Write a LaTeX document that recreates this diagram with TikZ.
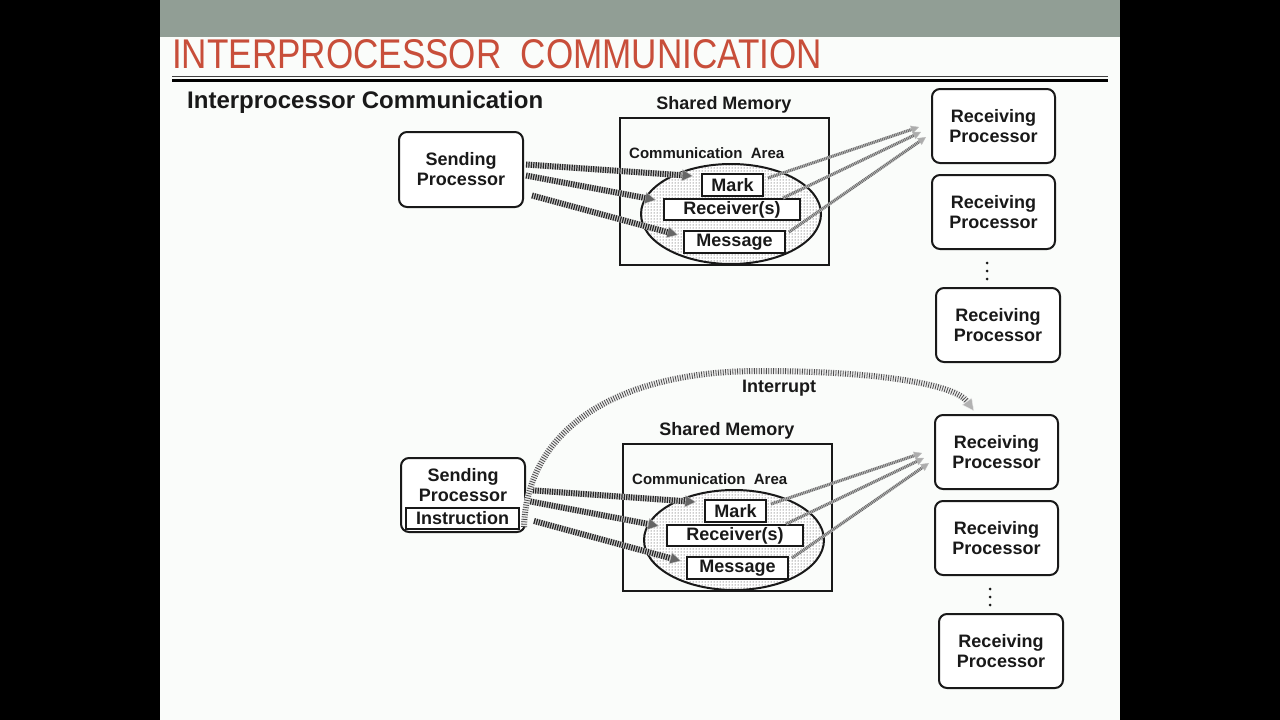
\documentclass[tikz,border=0pt]{standalone}
\usepackage{fontspec}
\setmainfont{Liberation Sans}
\usetikzlibrary{arrows.meta,patterns,shapes.geometric,calc}
\definecolor{band}{RGB}{145,158,149}
\definecolor{titlered}{RGB}{200,78,58}
\definecolor{slidebg}{RGB}{250,252,250}
\definecolor{ink}{RGB}{25,25,25}
\begin{document}
\begin{tikzpicture}[x=1pt,y=-1pt,
  proc/.style={draw=ink, line width=2pt, rounded corners=8pt, fill=white, align=center,
    font=\fontsize{18}{20}\selectfont\bfseries, text=ink, inner sep=0pt},
  lbl/.style={font=\fontsize{18}{20}\selectfont\bfseries, text=ink, inner sep=0pt},
  smalllbl/.style={font=\fontsize{15}{17}\selectfont\bfseries, text=ink, inner sep=0pt},
  memrect/.style={draw=ink, line width=2pt, minimum width=209pt, minimum height=147pt, inner sep=0pt},
  area/.style={ellipse, draw=ink, line width=2pt, minimum width=180pt, minimum height=100pt, inner sep=0pt,
    preaction={fill=white}, preaction={pattern=dots, pattern color=black!85}},
  field/.style={draw=ink, line width=2pt, fill=white, inner sep=0pt,
    font=\fontsize{18}{20}\selectfont\bfseries, text=ink},
  sendarr/.style={line width=6pt, draw=gray!40,
    -{Triangle[length=11pt,width=12pt,line width=0.4pt,fill=black!60]},
    postaction={draw=black!85, -, line width=6pt, dash pattern=on 1.2pt off 1.2pt, shorten >=11pt}},
  recvarr/.style={line width=3pt, draw=gray!50,
    -{Triangle[length=8pt,width=8pt,line width=0.4pt,fill=gray!65]},
    postaction={draw=black!60, -, line width=3pt, dash pattern=on 0.8pt off 1pt, shorten >=8pt}},
  intarr/.style={line width=6pt, draw=gray!15,
    -{Triangle[length=12pt,width=12pt,line width=0.4pt,fill=gray!60]},
    postaction={draw=black!70, -, line width=6pt, dash pattern=on 0.8pt off 1.6pt, shorten >=12pt}},
  dotmark/.style={circle, fill=ink, inner sep=0pt, minimum size=3pt}
]
\useasboundingbox (0,0) rectangle (1280,720);
% screen and slide
\fill[black] (0,0) rectangle (1280,720);
\fill[slidebg] (160,0) rectangle (1120,720);
\fill[band] (160,0) rectangle (1120,37);
\node[anchor=west, inner sep=0pt, text=titlered] (title) at (172,54)
  {\resizebox{650pt}{29pt}{INTERPROCESSOR\ \ COMMUNICATION}};
\draw[black!75, line width=1.5pt] (172,76.5) -- (1108,76.5);
\draw[black, line width=2.5pt] (172,80.5) -- (1108,80.5);
\node[anchor=west, inner sep=0pt, text=ink, font=\fontsize{24}{26}\selectfont\bfseries] (subtitle) at (187,102)
  {Interprocessor Communication};

% sending processors
\node[proc, minimum width=124pt, minimum height=75pt] (t-send) at (461,169.5) {Sending\\Processor};
\node[proc, minimum width=124pt, minimum height=74pt] (b-send) at (463,495) {};
\node[lbl, align=center] (b-sendtxt) at (463,485) {Sending\\Processor};
\node[field, line width=1.5pt, minimum width=113pt, minimum height=21pt] (b-instr) at (462.5,518.5) {Instruction};

\foreach \p/\dx/\dy in {t/0/0, b/3/326}{
\begin{scope}[shift={(\dx,\dy)}]
  \node[lbl] (\p-memlbl) at (724,105) {Shared Memory};
  \node[memrect] (\p-mem) at (724.5,191.5) {};
  \node[smalllbl, anchor=west] (\p-ca) at (629,153) {Communication\ \ Area};
  \node[area] (\p-area) at (731,214) {};
  \node[field, minimum width=61pt, minimum height=22pt] (\p-mark) at (732.5,185) {Mark};
  \node[field, minimum width=136pt, minimum height=21pt] (\p-rcv) at (732,209.5) {Receiver(s)};
  \node[field, minimum width=101pt, minimum height=22pt] (\p-msg) at (734.5,242) {Message};
  \node[proc, minimum width=123pt, minimum height=74pt] (\p-r1) at (993.5,126) {Receiving\\Processor};
  \node[proc, minimum width=123pt, minimum height=74pt] (\p-r2) at (993.5,212) {Receiving\\Processor};
  \node[proc, minimum width=124pt, minimum height=74pt] (\p-r3) at (998,325) {Receiving\\Processor};
  \node[dotmark] (\p-d1) at (987,263) {};
  \node[dotmark] (\p-d2) at (987,271) {};
  \node[dotmark] (\p-d3) at (987,279) {};
\end{scope}
  \draw[sendarr] ($(\p-send.east)+(2,-5)$) -- ($(\p-mark.north west)+(-8,3)$);
  \draw[sendarr] ($(\p-send.east)+(2,6)$) -- ($(\p-rcv.west)+(-7,-9.5)$);
  \draw[sendarr] ($(\p-send.east)+(8,26)$) -- ($(\p-msg.west)+(-5,-7)$);
  \draw[recvarr] ($(\p-mark.east)+(4,-7)$) -- ($(\p-r1.west)+(-12,1)$);
  \draw[recvarr] ($(\p-rcv.north east)+(-18,0)$) -- ($(\p-r1.west)+(-10,6)$);
  \draw[recvarr] ($(\p-msg.north east)+(3,2)$) -- ($(\p-r1.west)+(-5,11)$);
}

% interrupt
\coordinate (intstart) at ($(b-send.south east)+(-2,-6)$);
\coordinate (intend) at ($(b-r1.north west)+(40,-3)$);
\draw[intarr] (intstart) .. controls (527,430) and (615,371) .. (760,371)
  .. controls (880,371) and (955,385) .. (intend);
\node[lbl] (intlbl) at (779,388) {Interrupt};
\end{tikzpicture}
\end{document}
